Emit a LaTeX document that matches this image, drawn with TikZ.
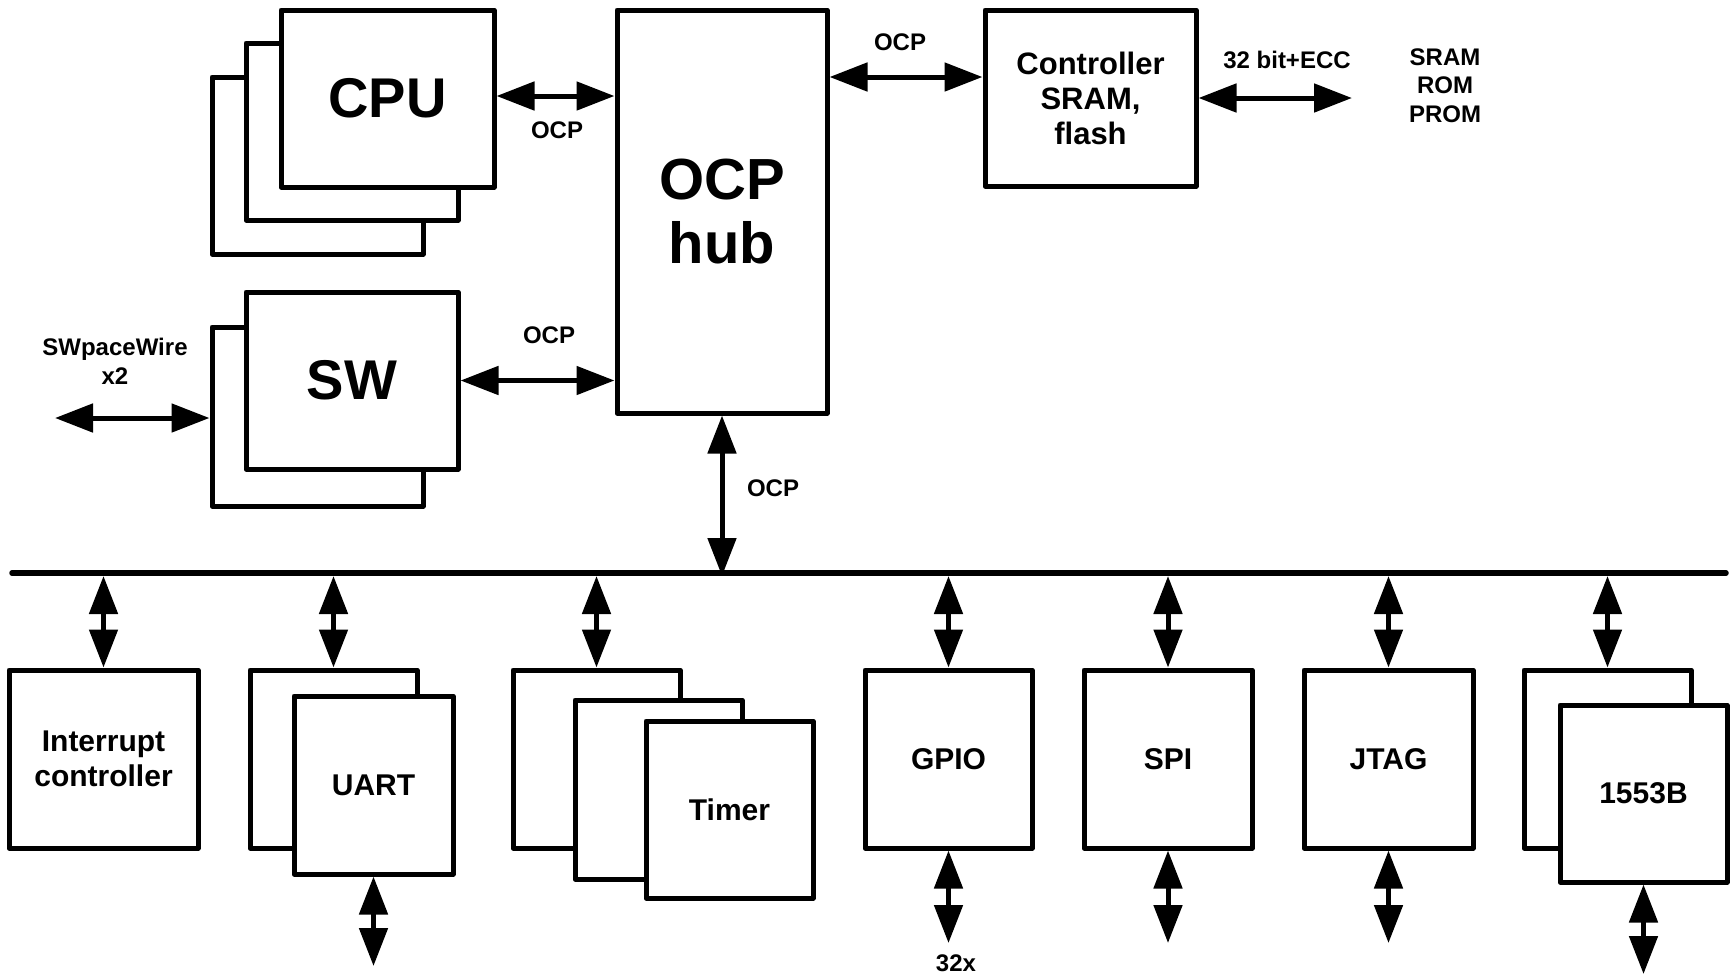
\documentclass[tikz,border=0pt]{standalone}
\usepackage{fontspec}
\setmainfont{Liberation Sans}
\usetikzlibrary{arrows.meta,calc}
\begin{document}
\begin{tikzpicture}[x=1pt,y=-1pt,
  box/.style={draw, line width=5pt, fill=white, line join=round, inner sep=0pt, align=center,
    font=\bfseries\fontsize{30}{35}\selectfont},
  sz/.style 2 args={minimum width=#1pt, minimum height=#2pt},
  bigtxt/.style={font=\bfseries\fontsize{56}{64}\selectfont},
  hubtxt/.style={font=\bfseries\fontsize{58}{64}\selectfont},
  ctrltxt/.style={font=\bfseries\fontsize{31}{35}\selectfont},
  lbl/.style={font=\bfseries\fontsize{24}{29}\selectfont, align=center, inner sep=0pt},
  link/.style={line width=5pt, {Triangle[length=38pt,width=28pt]}-{Triangle[length=38pt,width=28pt]}},
  busline/.style={line width=5.5pt, line cap=round}]
\useasboundingbox (0,0) rectangle (1735,978);

% ---- CPU stack ----
\node[box, sz={211}{177}] (cpu3) at (317.5,165.5) {};
\node[box, sz={212}{177}] (cpu2) at (352,131.5) {};
\node[box, sz={213}{177}, bigtxt] (cpu1) at (387.5,98.5) {CPU};

% ---- SW stack ----
\node[box, sz={211}{179}] (sw2) at (317.5,416.5) {};
\node[box, sz={212}{177}, bigtxt] (sw1) at (352,380.5) {SW};

% ---- OCP hub ----
\node[box, sz={210}{403}, hubtxt] (hub) at (722,211.5) {OCP\\hub};

% ---- Controller ----
\node[box, sz={211}{176}, ctrltxt] (ctrl) at (1090.5,98) {Controller\\SRAM,\\flash};

% ---- labels top ----
\node[lbl] (lcpu) at (557,130.5) {OCP};
\node[lbl] (lsw) at (549,335) {OCP};
\node[lbl] (lctrl) at (900,42) {OCP};
\node[lbl] (lhub) at (773,488) {OCP};
\node[lbl] (lecc) at (1287,60) {32 bit+ECC};
\node[lbl, font=\bfseries\fontsize{24}{28.5}\selectfont] (lmem) at (1445,85.5) {SRAM\\ROM\\PROM};
\node[lbl] (lspw) at (115,361.5) {SWpaceWire\\x2};

% ---- top connectors ----
\coordinate (cpy) at (0,96);
\coordinate (hcy) at (0,77);
\coordinate (mem) at (1352,98);
\coordinate (spw) at (55,418);
\draw[link] (cpu1.east |- cpy) -- (hub.west |- cpy);
\draw[link] (sw1.east) -- (sw1.east -| hub.west);
\draw[link] (hub.east |- hcy) -- (ctrl.west |- hcy);
\draw[link] (ctrl.east) -- (mem);
\draw[link] (spw) -- (sw2.west |- spw);

% ---- bus ----
\coordinate (busL) at (12,573);
\coordinate (busR) at (1726,573);
\coordinate (busy) at (0,576);
\draw[busline] (busL) -- (busR);
\draw[link] (hub.south) -- (hub.south |- busy);

% ---- bottom boxes ----
\node[box, sz={189}{178}] (intc) at (103.5,759) {Interrupt\\controller};
\node[box, sz={167}{178}] (uart2) at (333.5,759) {};
\node[box, sz={159}{178}] (uart1) at (373.5,785) {UART};
\node[box, sz={167}{178}] (tim3) at (596.5,759) {};
\node[box, sz={167}{179}] (tim2) at (658.5,789.5) {};
\node[box, sz={167}{177}] (tim1) at (729.5,809.5) {Timer};
\node[box, sz={167}{178}] (gpio) at (948.5,759) {GPIO};
\node[box, sz={168}{178}] (spi) at (1168,759) {SPI};
\node[box, sz={169}{178}] (jtag) at (1388.5,759) {JTAG};
\node[box, sz={167}{178}] (mil2) at (1607.5,759) {};
\node[box, sz={167}{177}] (mil1) at (1643.5,793.5) {1553B};

% ---- bus connectors ----
\draw[link] (intc.north |- busy) -- (intc.north);
\draw[link] (uart2.north |- busy) -- (uart2.north);
\draw[link] (tim3.north |- busy) -- (tim3.north);
\draw[link] (gpio.north |- busy) -- (gpio.north);
\draw[link] (spi.north |- busy) -- (spi.north);
\draw[link] (jtag.north |- busy) -- (jtag.north);
\draw[link] (mil2.north |- busy) -- (mil2.north);

% ---- outputs ----
\coordinate (uo) at (0,966);
\coordinate (po) at (0,943);
\coordinate (mo) at (0,974);
\draw[link] (uart1.south) -- (uart1.south |- uo);
\draw[link] (gpio.south) -- (gpio.south |- po);
\draw[link] (spi.south) -- (spi.south |- po);
\draw[link] (jtag.south) -- (jtag.south |- po);
\draw[link] (mil1.south) -- (mil1.south |- mo);
\node[lbl] (l32) at (956,963) {32x};
\end{tikzpicture}
\end{document}
